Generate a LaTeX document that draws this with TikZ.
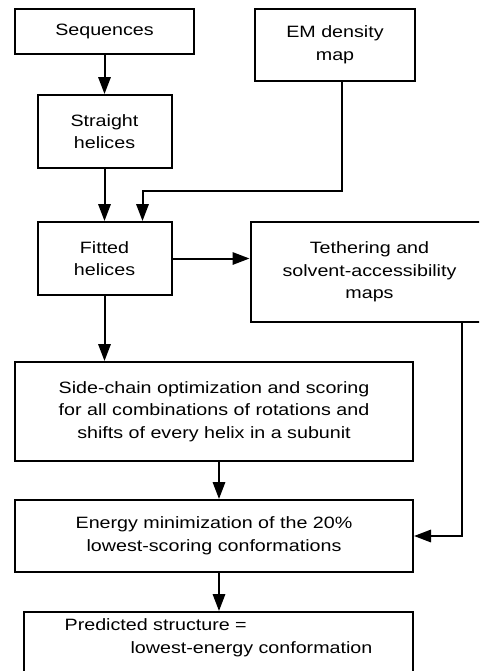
\documentclass[tikz,border=0pt]{standalone}
\usepackage{fontspec}
\setmainfont{Liberation Sans}[FakeStretch=1.2]
\usetikzlibrary{positioning,arrows.meta}
\begin{document}
\begin{tikzpicture}[
		>={Triangle[length=8.5pt,width=6.2pt]},
		line width=1pt,
		flow node/.style={rectangle, draw, line width=1pt, align=center, inner sep=0pt, font=\fontsize{8.2}{11.3}\selectfont},
		small node/.style={flow node, minimum width=67pt, minimum height=36.5pt},
		wide node/.style={flow node, minimum width=199pt}
	]
		\useasboundingbox (0,0) rectangle (239.5pt,-335.5pt);
		\clip (0,0) rectangle (239.5pt,-335.5pt);

		\node[flow node, minimum width=89.5pt, minimum height=22.5pt] (seq) at (52.25pt,-15.75pt) {Sequences};
		\node[small node, below=19.5pt of seq] (straight) {Straight\\helices};
		\node[small node, below=26pt of straight] (fitted) {Fitted\\helices};

		\node[flow node, minimum width=80pt, minimum height=36pt, right=29.5pt of seq.north east, anchor=north west] (em) {EM density\\map};
		\node[flow node, minimum width=119pt, minimum height=50pt, right=38.5pt of fitted.north east, anchor=north west] (tether) {Tethering and\\solvent-accessibility\\maps};

		\node[wide node, minimum height=49.5pt, anchor=north west] (side) at ([yshift=-32.5pt]fitted.south -| seq.west) {Side-chain optimization and scoring\\for all combinations of rotations and\\shifts of every helix in a subunit};
		\node[wide node, minimum height=36pt, below=18.5pt of side] (energy) {Energy minimization of the 20\%\\lowest-scoring conformations};
		\node[flow node, minimum width=194.5pt, inner ysep=3.5pt, align=left, below=19pt of energy, xshift=2.25pt] (pred) {Predicted structure =\\\hspace*{33pt}lowest-energy conformation\\[8pt]\mbox{}};

		\foreach \from/\to in {seq/straight, straight/fitted} {
			\draw[->] (\from) -- (\to);
		}
		\draw[->] ([xshift=3.5pt]em.south) -- ++(0,-54.5pt) -| ([xshift=19pt]fitted.north);
		\draw[->] (fitted.east) -- (fitted.east -| tether.west);
		\draw[->] (fitted) -- (fitted |- side.north);
		\draw[->] ([xshift=46.25pt]tether.south) |- (energy.east);
		\draw[->] ([xshift=2.5pt]side.south) -- ([xshift=2.5pt]side.south |- energy.north);
		\draw[->] ([xshift=2.5pt]energy.south) -- ([xshift=2.5pt]energy.south |- pred.north);
	\end{tikzpicture}
\end{document}
